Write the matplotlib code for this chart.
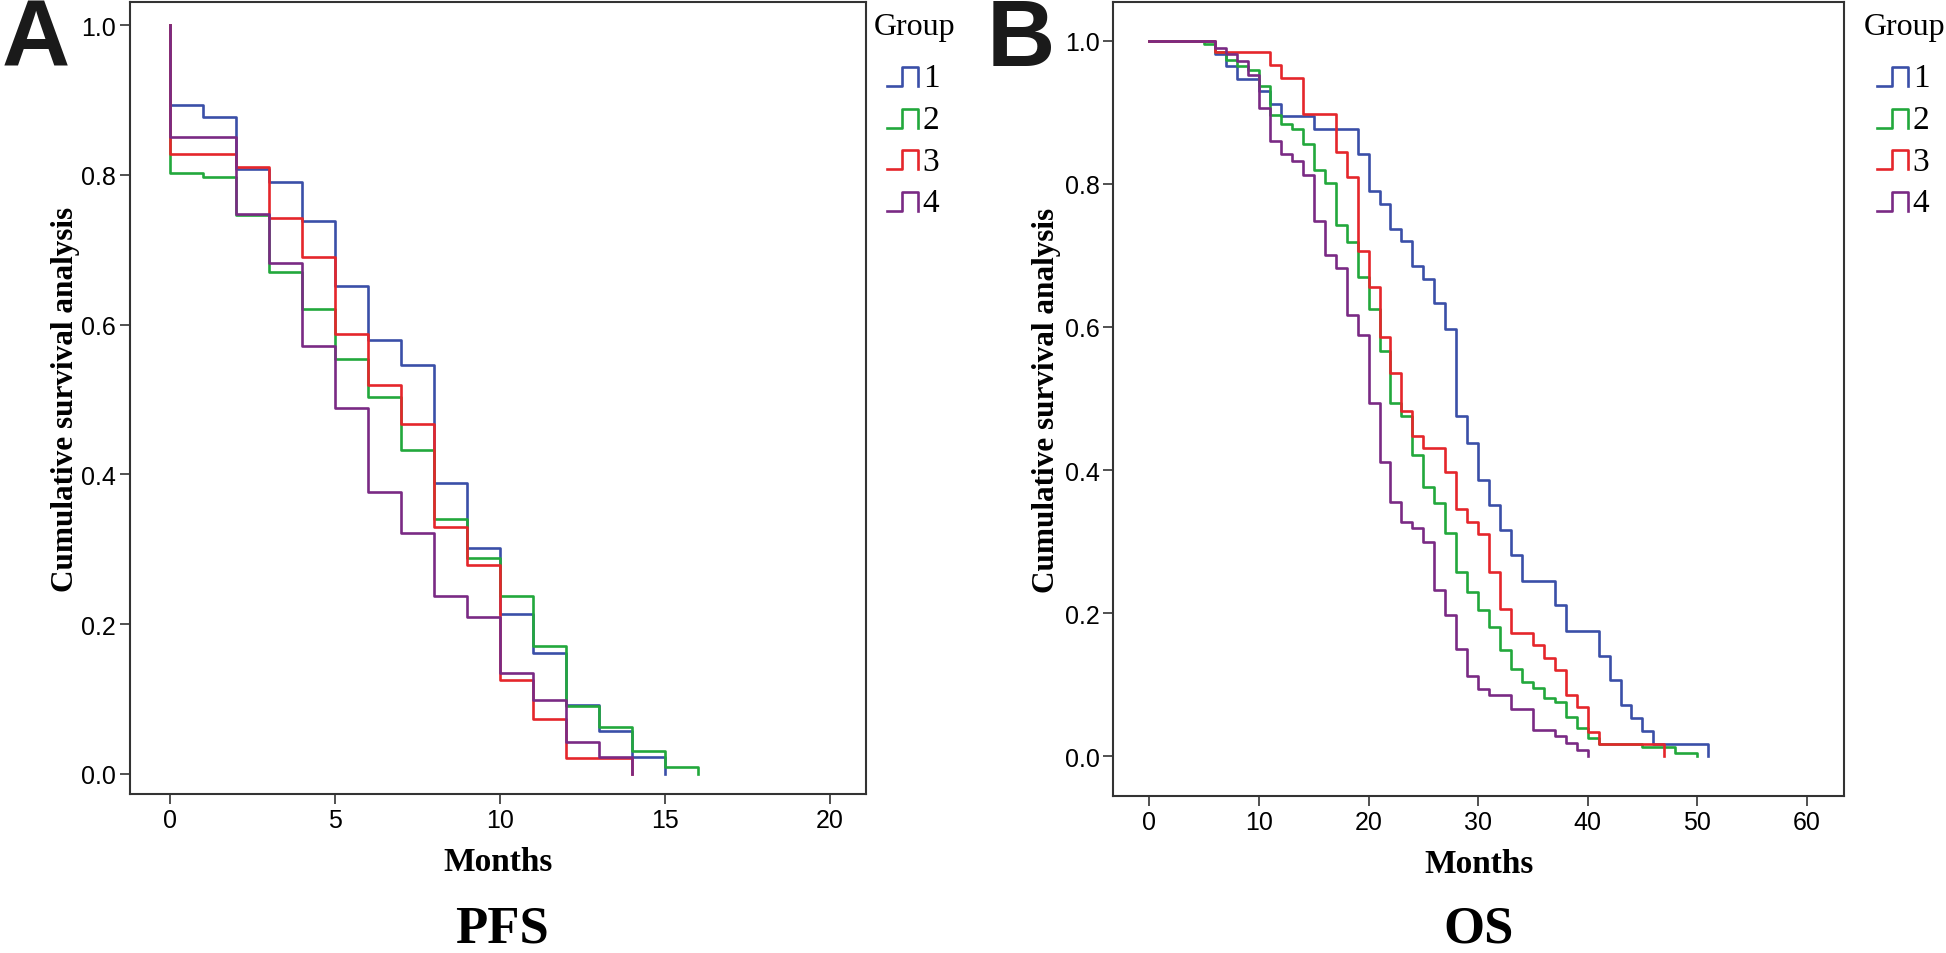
import matplotlib
matplotlib.use("Agg")
import matplotlib.pyplot as plt
from matplotlib.lines import Line2D

W, H = 1946, 954

# ---- PFS (panel A) ----
pfs_t1 = [0, 0, 1, 2, 3, 4, 5, 6, 7, 8, 9, 10, 11, 12, 13, 14, 15]
pfs_s1 = [1.0, 0.894, 0.877, 0.808, 0.790, 0.738, 0.651, 0.580, 0.546, 0.389,
          0.301, 0.214, 0.162, 0.092, 0.057, 0.022, 0.0]
pfs_t2 = [0, 0, 1, 2, 3, 4, 5, 6, 7, 8, 9, 10, 11, 12, 13, 14, 15, 16]
pfs_s2 = [1.0, 0.802, 0.797, 0.747, 0.670, 0.621, 0.554, 0.504, 0.432, 0.341,
          0.288, 0.238, 0.171, 0.091, 0.063, 0.031, 0.009, 0.0]
pfs_t3 = [0, 0, 2, 3, 4, 5, 6, 7, 8, 9, 10, 11, 12, 14]
pfs_s3 = [1.0, 0.828, 0.811, 0.742, 0.690, 0.588, 0.519, 0.467, 0.330, 0.279,
          0.125, 0.073, 0.021, 0.0]
pfs_t4 = [0, 0, 2, 3, 4, 5, 6, 7, 8, 9, 10, 11, 12, 13, 14]
pfs_s4 = [1.0, 0.851, 0.748, 0.683, 0.572, 0.488, 0.376, 0.321, 0.238, 0.209,
          0.135, 0.098, 0.042, 0.022, 0.0]

# ---- OS (panel B) ----
os_t1 = [0, 6, 7, 8, 10, 11, 12, 15, 19, 20, 21, 22, 23, 24, 25, 26, 27, 28, 29,
         30, 31, 32, 33, 34, 37, 38, 41, 42, 43, 44, 45, 46, 51]
os_s1 = [1.0, 0.982, 0.964, 0.947, 0.9295, 0.912, 0.895, 0.877, 0.842, 0.790,
         0.772, 0.737, 0.720, 0.685, 0.667, 0.633, 0.597, 0.476, 0.438, 0.3855,
         0.3505, 0.3165, 0.2806, 0.245, 0.211, 0.1756, 0.140, 0.106, 0.071,
         0.053, 0.0356, 0.0172, 0.0]
os_t2 = [0, 5, 6, 7, 8, 9, 10, 11, 12, 13, 14, 15, 16, 17, 18, 19, 20, 21, 22,
         23, 24, 25, 26, 27, 28, 29, 30, 31, 32, 33, 34, 35, 36, 37, 38, 39, 40,
         41, 45, 48, 50]
os_s2 = [1.0, 0.996, 0.984, 0.973, 0.964, 0.959, 0.937, 0.896, 0.883, 0.877,
         0.855, 0.819, 0.801, 0.742, 0.719, 0.670, 0.625, 0.566, 0.493, 0.476,
         0.421, 0.376, 0.354, 0.312, 0.257, 0.230, 0.204, 0.180, 0.149, 0.122,
         0.104, 0.095, 0.081, 0.076, 0.055, 0.040, 0.026, 0.017, 0.013, 0.005,
         0.0]
os_t3 = [0, 6, 11, 12, 14, 17, 18, 19, 20, 21, 22, 23, 24, 25, 27, 28, 29, 30,
         31, 32, 33, 35, 36, 37, 38, 39, 40, 41, 47]
os_s3 = [1.0, 0.984, 0.966, 0.948, 0.897, 0.845, 0.810, 0.706, 0.656, 0.586,
         0.535, 0.483, 0.448, 0.431, 0.397, 0.345, 0.327, 0.310, 0.258, 0.206,
         0.172, 0.155, 0.138, 0.121, 0.086, 0.069, 0.0345, 0.0172, 0.0]
os_t4 = [0, 6, 7, 8, 9, 10, 11, 12, 13, 14, 15, 16, 17, 18, 19, 20, 21, 22, 23,
         24, 25, 26, 27, 28, 29, 30, 31, 33, 35, 37, 38, 39, 40]
os_s4 = [1.0, 0.990, 0.982, 0.972, 0.952, 0.906, 0.860, 0.841, 0.832, 0.812,
         0.748, 0.701, 0.683, 0.617, 0.589, 0.494, 0.411, 0.356, 0.327, 0.319,
         0.299, 0.233, 0.197, 0.150, 0.112, 0.094, 0.085, 0.066, 0.037, 0.029,
         0.018, 0.009, 0.0]

groups = ["1", "2", "3", "4"]
colors = ["#3a4fa8", "#22a83c", "#e5262b", "#7a2a84"]

serif = "Liberation Serif"
sans = "Liberation Sans"
LW = 1.9

fig = plt.figure(figsize=(W / 100, H / 100), dpi=100)


def box(l, t, r, b):
    return [l / W, 1 - b / H, (r - l) / W, (b - t) / H]


def style_axes(ax, xticks, xlim, ylim, ylab_x):
    ax.set_xlim(*xlim)
    ax.set_ylim(*ylim)
    ax.set_xticks(xticks)
    ax.set_yticks([0.0, 0.2, 0.4, 0.6, 0.8, 1.0])
    ax.set_yticklabels(["0.0", "0.2", "0.4", "0.6", "0.8", "1.0"])
    for s in ax.spines.values():
        s.set_color("#333333")
        s.set_linewidth(1.5)
    ax.tick_params(direction="out", length=7, width=1.2, color="#333333",
                   labelsize=18, pad=3)
    for lab in ax.get_xticklabels() + ax.get_yticklabels():
        lab.set_family(sans)
    ax.set_xlabel("Months", fontfamily=serif, fontweight="bold", fontsize=24)
    ax.xaxis.set_label_coords(0.5, -0.0855)
    ax.xaxis.label.set_va("center")
    ax.set_ylabel("Cumulative survival analysis", fontfamily=serif,
                  fontweight="bold", fontsize=22.5)
    ax.yaxis.set_label_coords(ylab_x, 0.5)
    ax.yaxis.label.set_va("center")


def draw_legend(x0):
    fig.text((x0 - 13) / W, 1 - 27 / H, "Group", fontfamily=serif,
             fontsize=23, va="center", ha="left")
    for i, (g, c) in enumerate(zip(groups, colors)):
        yb = 87 + i * 41.7
        yt = yb - 19
        xs = [x0, x0 + 15, x0 + 15, x0 + 31.6, x0 + 31.6]
        ys = [yb, yb, yt, yt, yb]
        fig.add_artist(Line2D([x / W for x in xs], [1 - y / H for y in ys],
                              color=c, lw=LW, transform=fig.transFigure))
        fig.text((x0 + 36) / W, 1 - (yb - 8) / H, g, fontfamily=serif,
                 fontsize=24, va="center", ha="left")


# panel A
axA = fig.add_axes(box(130, 3, 866, 795))
for t, s, c in zip([pfs_t1, pfs_t2, pfs_t3, pfs_t4],
                   [pfs_s1, pfs_s2, pfs_s3, pfs_s4], colors):
    axA.plot(t, s, drawstyle="steps-post", color=c, lw=LW)
style_axes(axA, [0, 5, 10, 15, 20], (-1.22, 21.1), (-0.027, 1.031), -0.088)
draw_legend(886.7)

# panel B
axB = fig.add_axes(box(1113.3, 3, 1844, 797))
for t, s, c in zip([os_t1, os_t2, os_t3, os_t4],
                   [os_s1, os_s2, os_s3, os_s4], colors):
    axB.plot(t, s, drawstyle="steps-post", color=c, lw=LW)
style_axes(axB, [0, 10, 20, 30, 40, 50, 60], (-3.3, 63.4), (-0.0555, 1.054),
           -0.092)
draw_legend(1876.7)

# panel letters and titles
fig.text(2 / W, 1 - 42 / H, "A", fontfamily=sans, fontweight="bold",
         fontsize=68, color="#1a1a1a", va="center", ha="left")
fig.text(987 / W, 1 - 42 / H, "B", fontfamily=sans, fontweight="bold",
         fontsize=68, color="#1a1a1a", va="center", ha="left")
fig.text(502 / W, 1 - 930 / H, "PFS", fontfamily=serif, fontweight="bold",
         fontsize=38, va="center", ha="center")
fig.text(1479 / W, 1 - 930 / H, "OS", fontfamily=serif, fontweight="bold",
         fontsize=38, va="center", ha="center")

fig.savefig("out.png", dpi=100)
